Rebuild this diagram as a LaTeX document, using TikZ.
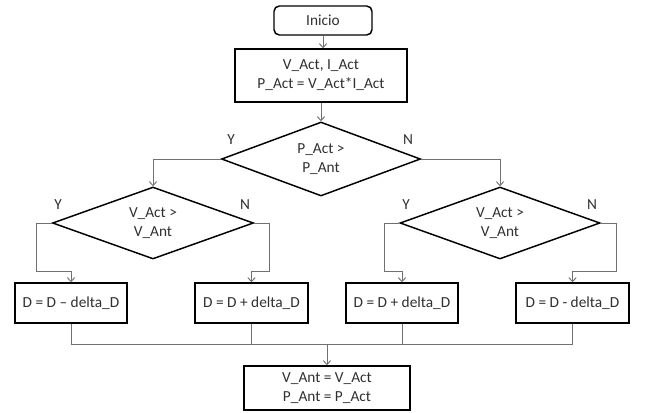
\documentclass[tikz,border=0pt]{standalone}
\usepackage{fontspec}
\setmainfont{Carlito}
\usetikzlibrary{shapes.geometric,arrows.meta,calc}
\definecolor{txt}{HTML}{303030}
\definecolor{conn}{HTML}{707070}
\tikzset{
  every node/.style={font=\fontsize{11.5}{14.25}\selectfont, text=txt},
  procbox/.style={draw=black, line width=1.1pt, rectangle, inner sep=0pt, align=center},
  startbox/.style={procbox, rounded corners=4pt},
  decision/.style={draw=black, line width=1.1pt, diamond, inner sep=0pt, align=center, aspect=2.8},
  conn/.style={draw=conn, line width=0.7pt},
  arr/.style={conn, -{Straight Barb[length=3pt,width=5.5pt]}},
  lbl/.style={inner sep=0pt}
}
\begin{document}
\begin{tikzpicture}[x=0.75pt,y=-0.75pt]
\useasboundingbox (0,0) rectangle (646,412);
\fill[white] (0,0) rectangle (646,412);

\node[startbox, minimum width=73.5pt, minimum height=21.75pt] (start) at (323,20.5) {Inicio};
\node[procbox, minimum width=129pt, minimum height=39.75pt] (init) at (321,75.5) {V\_Act, I\_Act\\P\_Act = V\_Act*I\_Act};
\node[decision, minimum width=149.25pt, minimum height=55.5pt] (d1) at (321,159) {P\_Act >\\P\_Ant};
\node[decision, minimum width=150.75pt, minimum height=54pt] (d2) at (153,223) {V\_Act >\\V\_Ant};
\node[decision, minimum width=150pt, minimum height=54pt] (d3) at (500,223) {V\_Act >\\V\_Ant};

\node[procbox, minimum width=84pt, minimum height=30pt] (b1) at (71,303) {D = D – delta\_D};
\node[procbox, minimum width=84.75pt, minimum height=30pt] (b2) at (251.5,303) {D = D + delta\_D};
\node[procbox, minimum width=84pt, minimum height=30pt] (b3) at (402,303) {D = D + delta\_D};
\node[procbox, minimum width=84.75pt, minimum height=30pt] (b4) at (572.5,303) {D = D - delta\_D};
\node[procbox, minimum width=124.5pt, minimum height=33pt] (fin) at (327,388) {V\_Ant = V\_Act\\P\_Ant = P\_Act};

% labels
\node[lbl] (y1) at (231,140) {Y};
\node[lbl] (n1) at (408,140) {N};
\node[lbl] (y2) at (58,205) {Y};
\node[lbl] (n2) at (245,205) {N};
\node[lbl] (y3) at (406,205) {Y};
\node[lbl] (n3) at (592,205) {N};

% connectors
\draw[arr] (start.south) -- (start.south |- init.north);
\draw[arr] (init.south) -- (d1.north);
\draw[arr] (d1.west) -| (d2.north);
\draw[arr] (d1.east) -| (d3.north);

\draw[arr] (d2.west) -- ++(-15,0) |- ([yshift=8.25pt]b1.north) -- (b1.north);
\draw[arr] (d2.east) -- ++(15,0) |- ([yshift=8.25pt]b2.north) -- (b2.north);
\draw[arr] (d3.west) -- ++(-15,0) |- ([yshift=8.25pt]b3.north) -- (b3.north);
\draw[arr] (d3.east) -- ++(16,0) |- ([yshift=8.25pt]b4.north) -- (b4.north);

\coordinate (m) at (327,344);
\draw[conn] (b1.south) |- (m);
\draw[conn] (b4.south) |- (m);
\draw[conn] (b2.south) -- (b2.south |- m);
\draw[conn] (b3.south) -- (b3.south |- m);
\draw[arr] (m) -- (fin.north);
\end{tikzpicture}
\end{document}
